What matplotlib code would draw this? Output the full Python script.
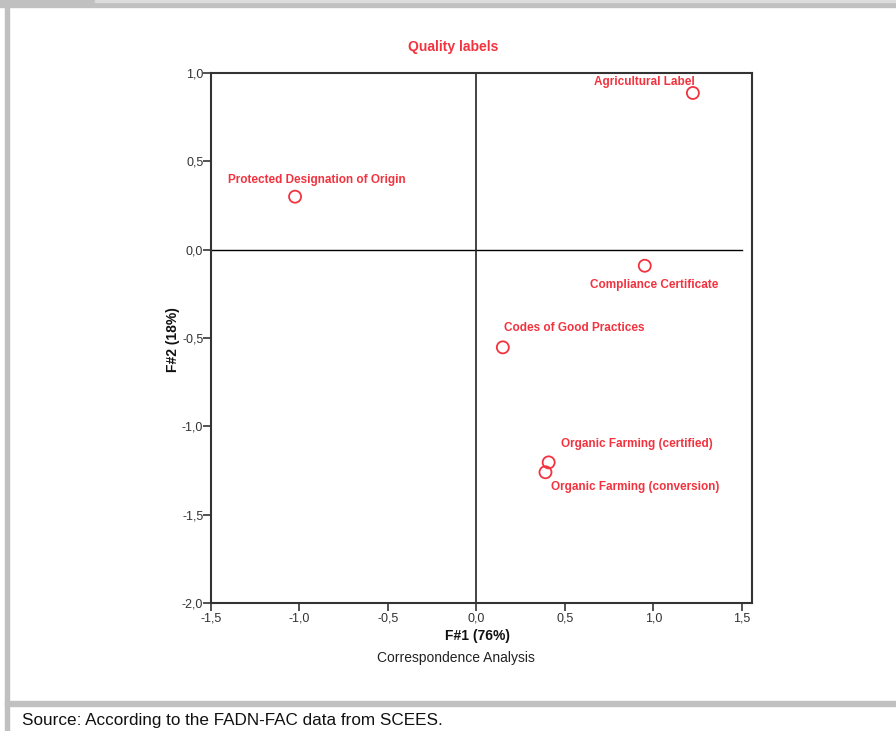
import matplotlib.pyplot as plt
from matplotlib.ticker import FuncFormatter
from matplotlib.patches import Rectangle

# quality labels, coordinates
labels = ["Protected Designation of Origin", "Agricultural Label",
          "Compliance Certificate", "Codes of Good Practices",
          "Organic Farming (certified)", "Organic Farming (conversion)"]
f1 = [-1.025, 1.223, 0.951, 0.149, 0.408, 0.390]
f2 = [0.300, 0.887, -0.091, -0.553, -1.204, -1.260]

# label offsets (points) and alignment around each marker
offsets = [(16, 12), (-35, 8), (6.5, -13.7), (0.7, 13.7), (8.6, 13), (4.3, -10.8)]
aligns = ["center", "center", "center", "left", "left", "left"]

xticks = [-1.5, -1.0, -0.5, 0.0, 0.5, 1.0, 1.5]
yticks = [-2.0, -1.5, -1.0, -0.5, 0.0, 0.5, 1.0]

red = "#f2333f"
fam = ["Liberation Sans", "DejaVu Sans"]
plt.rcParams["font.family"] = fam

H, W = 731, 896
fig = plt.figure(figsize=(8.96, 7.31), dpi=100)
ax = fig.add_axes([211 / W, 1 - 603 / H, (752 - 211) / W, (603 - 73) / H])

ax.axhline(0, xmin=0, xmax=(1.5 + 1.5) / (1.557 + 1.5), color="black", lw=1, zorder=1)
ax.axvline(0, color="#222222", lw=1.2, zorder=1)

ax.scatter(f1, f2, s=75, facecolors="none", edgecolors=red, linewidths=1.3, zorder=3)

for name, x, y, off, ha in zip(labels, f1, f2, offsets, aligns):
    ax.annotate(name, (x, y), xytext=off, textcoords="offset points",
                ha=ha, va="center", color=red, fontsize=8.5, fontweight="bold")

ax.set_xlim(-1.5, 1.557)
ax.set_ylim(-2.0, 1.0)
ax.set_xticks(xticks)
ax.set_yticks(yticks)
fmt = FuncFormatter(lambda v, p: f"{v:.1f}".replace(".", ","))
ax.xaxis.set_major_formatter(fmt)
ax.yaxis.set_major_formatter(fmt)
ax.tick_params(direction="out", length=5.5, width=1.2, labelsize=9,
               color="#333333", labelcolor="#333333")
ax.tick_params(axis="y", pad=0)
ax.tick_params(axis="x", pad=1)
for sp in ax.spines.values():
    sp.set_color("#333333")
    sp.set_linewidth(1.5)

fig.text(453 / W, 1 - 47 / H, "Quality labels", ha="center", va="center",
         color=red, fontsize=10, fontweight="bold")
fig.text(477 / W, 1 - 636 / H, "F#1 (76%)", ha="center", va="center",
         fontsize=10, fontweight="bold", color="#111111")
fig.text(173 / W, 1 - 340 / H, "F#2 (18%)", ha="center", va="center", rotation=90,
         fontsize=10, fontweight="bold", color="#111111")
fig.text(456 / W, 1 - 658 / H, "Correspondence Analysis", ha="center", va="center",
         fontsize=10, color="#222222")

# grey page frame
grey = "#c0c0c0"
fig.patches.append(Rectangle((0, 1 - 7 / H), 1, 7 / H, transform=fig.transFigure,
                             color=grey, zorder=0))
fig.patches.append(Rectangle((95 / W, 1 - 2 / H), 1, 2 / H, transform=fig.transFigure,
                             color="#dcdcdc", zorder=1))
fig.patches.append(Rectangle((5 / W, 0), 4 / W, 1, transform=fig.transFigure,
                             color=grey, zorder=0))
fig.patches.append(Rectangle((5 / W, 1 - 706 / H), 1, 5 / H, transform=fig.transFigure,
                             color=grey, zorder=0))
fig.text(22 / W, 1 - 720 / H, "Source: According to the FADN-FAC data from SCEES.",
         ha="left", va="center", fontsize=12.3, color="#111111")

fig.savefig("out.png", dpi=100)
